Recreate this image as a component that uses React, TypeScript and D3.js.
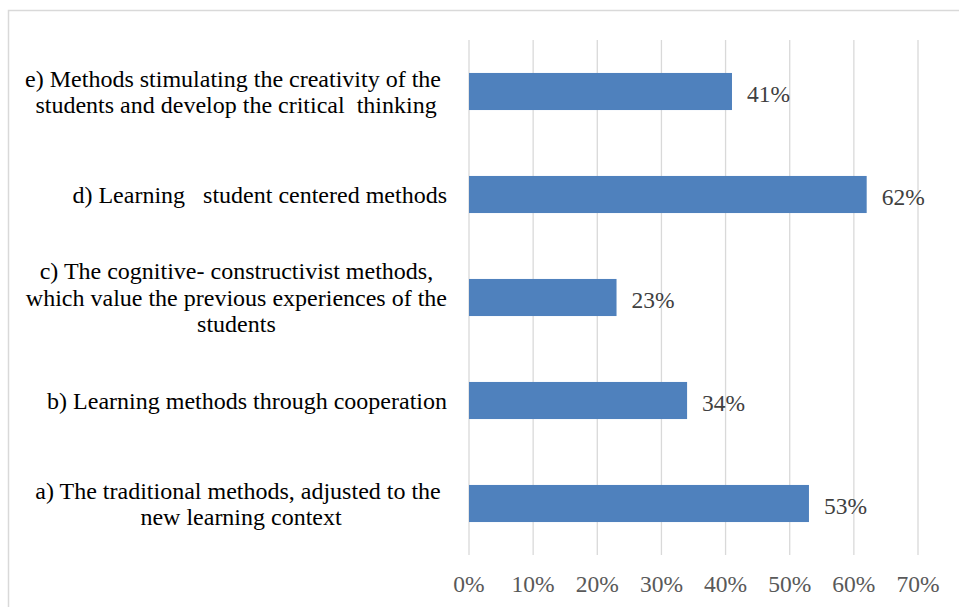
import React, { useMemo } from "react";
import * as d3 from "d3";

const categories: string[][] = [
  ["e) Methods stimulating the creativity of the ", "students and develop the critical  thinking"],
  ["d) Learning   student centered methods"],
  ["c) The cognitive- constructivist methods,", "which value the previous experiences of the", "students"],
  ["b) Learning methods through cooperation"],
  ["a) The traditional methods, adjusted to the ", "new learning context"],
];
const values: number[] = [0.41, 0.62, 0.23, 0.34, 0.53];
const ticks: number[] = [0, 0.1, 0.2, 0.3, 0.4, 0.5, 0.6, 0.7];

const W = 959;
const H = 607;
const FONT = "Liberation Serif";
const FS = 24;
const NUM_FS = 23.5;

function measure(text: string, size: number): number {
  const c = document.createElement("canvas");
  const ctx = c.getContext("2d");
  if (!ctx) return text.length * size * 0.45;
  ctx.font = `${size}px "Liberation Serif"`;
  return ctx.measureText(text).width;
}

export default function App() {
  const plotLeft = 469;
  const plotRight = 918;
  const plotTop = 40;
  const plotBottom = 555;

  const x = d3.scaleLinear().domain([0, 0.7]).range([plotLeft, plotRight]);
  const y = d3
    .scaleBand<number>()
    .domain(d3.range(categories.length))
    .range([plotTop, plotBottom])
    .paddingInner(0.64)
    .paddingOuter(0.32);
  const fmt = d3.format(".0%");

  const labelRight = 447;
  const lineH = 26.5;

  const blockCenters = useMemo(
    () =>
      categories.map((lines) => {
        const maxW = Math.max(...lines.map((l) => measure(l, FS)));
        return labelRight - maxW / 2;
      }),
    []
  );

  return (
    <svg width={W} height={H} style={{ position: "absolute", left: 0, top: 0, background: "#fff" }}>
      <rect x={0} y={0} width={W} height={H} fill="#fff" />
      <path d={`M8.5,${H + 2}V10.5H${W + 2}`} fill="none" stroke="#d9d9d9" strokeWidth={1.5} />
      {ticks.map((t) => (
        <line key={t} x1={x(t)} x2={x(t)} y1={plotTop} y2={plotBottom} stroke="#d9d9d9" strokeWidth={1.3} />
      ))}
      {values.map((v, i) => (
        <rect key={i} x={x(0)} y={y(i)!} width={x(v) - x(0)} height={y.bandwidth()} fill="#4f81bd" />
      ))}
      {values.map((v, i) => (
        <text
          key={"l" + i}
          x={x(v) + 15}
          y={y(i)! + y.bandwidth() / 2}
          dy={10}
          fontSize={NUM_FS}
          fill="#404040"
          style={{ fontFamily: FONT }}
        >
          {fmt(v)}
        </text>
      ))}
      {categories.map((lines, i) => {
        const cy = y(i)! + y.bandwidth() / 2;
        const start = cy - ((lines.length - 1) * lineH) / 2;
        return (
          <text
            key={"c" + i}
            x={blockCenters[i]}
            textAnchor="middle"
            fontSize={FS}
            fill="#000"
            style={{ fontFamily: FONT, whiteSpace: "pre" }}
          >
            {lines.map((ln, j) => (
              <tspan key={j} x={blockCenters[i]} y={start + j * lineH} dy="0.35em">
                {ln}
              </tspan>
            ))}
          </text>
        );
      })}
      {ticks.map((t) => (
        <text
          key={"t" + t}
          x={x(t)}
          y={592}
          textAnchor="middle"
          fontSize={NUM_FS}
          fill="#595959"
          style={{ fontFamily: FONT }}
        >
          {fmt(t)}
        </text>
      ))}
    </svg>
  );
}
